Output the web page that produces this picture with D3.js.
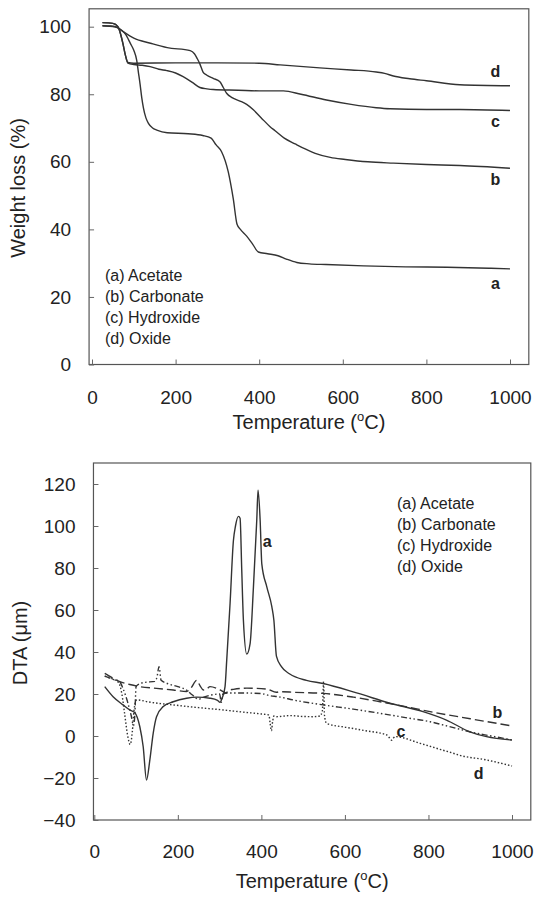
<!DOCTYPE html>
<meta charset="utf-8">
<html>
<head>
<title>TGA / DTA</title>
<style>
  body { margin: 0; background: #fff; }
  svg text { font-family: "Liberation Sans", Arial, sans-serif; fill: #222; }
</style>
</head>
<body>
<div id="viz"></div>
<script src="https://cdnjs.cloudflare.com/ajax/libs/d3/7.8.5/d3.min.js"></script>
<script>
// ---- data: [temperature (C), value] ----
var legendNames = ["(a) Acetate", "(b) Carbonate", "(c) Hydroxide", "(d) Oxide"];
var curveKeys = ["a", "b", "c", "d"];
var xTicks = [0, 200, 400, 600, 800, 1000];
var tgaTicks = [0, 20, 40, 60, 80, 100];
var dtaTicks = [-40, -20, 0, 20, 40, 60, 80, 100, 120];

var tgaAcetate = [[25,100.3],[55,100],[70,99],[80,97.8],[92,95],[100,93],[107,90],[111,86.5],[115,83],
  [119,79],[123,76],[129,73],[135,71.4],[145,70],[155,69.4],[180,68.6],[230,68.3],[265,67.8],[285,67],
  [297,65],[310,63],[326,57],[338,49],[347,41.5],[355,40],[370,38],[385,35.5],[398,33.3],[420,32.8],
  [445,32.2],[465,31.2],[490,30.2],[520,29.8],[560,29.6],[650,29.2],[750,28.9],[850,28.8],[950,28.5],[1000,28.3]];
var tgaCarbonate = [[25,100.3],[45,100.2],[60,99.8],[75,98.5],[100,96.6],[140,95.1],[180,93.8],[235,92.9],
  [245,92],[252,90.5],[258,89],[266,86.5],[274,85.7],[290,84.7],[306,83.7],[314,82],[322,80.3],[335,79],
  [354,78],[370,77],[386,75.4],[405,73],[426,70.4],[438,69.2],[460,67],[486,65.3],[510,63.8],[534,62.5],
  [570,61.3],[606,60.7],[660,60],[721,59.6],[800,59.2],[880,58.9],[1000,58.1]];
var tgaHydroxide = [[25,101.2],[50,101],[62,100],[68,98],[74,95],[80,91.5],[86,89.2],[100,88.8],[120,88.6],
  [139,88.2],[160,87.4],[179,87],[200,86.3],[218,85.2],[240,83.5],[258,82],[275,81.6],[290,81.4],[350,81.2],
  [400,81],[458,81],[500,80],[561,78.3],[620,77],[680,76],[713,75.7],[800,75.5],[880,75.5],[1000,75.2]];
var tgaOxide = [[25,101.2],[50,101],[62,100],[68,98],[74,95],[80,91.5],[86,89.4],[100,89.2],[200,89.3],
  [300,89.3],[400,89.2],[450,88.7],[545,87.8],[620,87.2],[680,86.6],[700,86.2],[721,85.4],[760,84.6],
  [800,84],[880,82.8],[1000,82.5]];

var dtaAcetate = [[25,23.5],[45,18.7],[69,14.8],[85,12.4],[97,11.1],[109,4.4],[117,-5],[125,-21],[133,-11.4],
  [141,1.3],[149,9.2],[165,14],[189,16.3],[221,18],[245,18.5],[277,18],[295,17],[301,16],[306,18],[313,23.5],
  [317,36],[325,63],[333,93],[338,100],[345,104.6],[349,103.7],[353,79],[357,55],[365,39],[373,44],[381,71],
  [389,103],[392,117],[397,103],[401,82],[413,71],[425,61.6],[430,55],[436,38],[448,33],[468,29.5],[508,26.5],
  [548,25],[628,20.5],[708,15.6],[787,11.6],[843,7.6],[899,2],[939,-0.3],[1000,-1.9]];
var dtaCarbonate = [[25,29.8],[45,27.5],[61,25.9],[85,24.5],[109,23.5],[149,22.7],[189,21.9],[221,21.2],
  [232,23],[245,26.5],[253,24],[261,21.9],[270,22.5],[277,23.5],[293,22.7],[305,21.5],[315,20.5],[322,21.8],
  [333,22.2],[365,22.8],[413,22.3],[436,20.8],[444,21.1],[480,20.8],[548,20.3],[620,18.5],[684,16.3],
  [750,13.8],[804,11.6],[900,8.2],[1000,4.8]];
var dtaHydroxide = [[25,28.5],[45,27],[60,26],[70,22],[80,16],[88,10],[94,5],[97,10],[100,23.5],[105,24.5],
  [120,25.5],[145,26],[150,28],[155,33],[160,26.5],[175,25],[200,23.5],[220,22],[235,19.5],[250,17.5],
  [262,18.5],[280,19.5],[300,20],[304,16],[308,20],[320,20.5],[350,20.5],[400,20.2],[420,19.2],[440,18.7],
  [480,17],[548,14.8],[620,12.8],[684,10.8],[750,8.6],[804,6.8],[850,4.5],[899,2],[950,0],[1000,-1.9]];
var dtaOxide = [[25,28.5],[45,27],[58,25.5],[66,20],[73,10],[80,0],[86,-4],[91,2],[95,12],[99,16.5],
  [102,17.2],[130,16.2],[160,15.4],[189,14.8],[250,13.5],[309,12.4],[360,11.3],[400,10.5],[418,10],[421,6],
  [424,2.5],[427,7],[430,9.5],[436,9.2],[468,9.7],[500,9.3],[524,9.2],[540,9.5],[546,12],[549,26],[551,10],
  [556,6],[604,4.1],[650,2.5],[700,0.5],[707,-1],[712,-2],[716,-1],[720,-0.3],[780,-3.5],[830,-6.5],
  [859,-8.2],[875,-9.2],[939,-11.4],[1000,-14.3]];

// where the a/b/c/d tags sit, in data units
var tgaTags = [[965,24],[965,54.9],[965,71.9],[965,86.7]];
var dtaTags = [[414,92.9],[965,11.3],[734,2.4],[920,-17.8]];

var svg = d3.select("#viz").append("svg")
    .attr("width", 534)
    .attr("height", 899);

var line = function (x, y) {
    return d3.line()
        .x(function (d) { return x(d[0]); })
        .y(function (d) { return y(d[1]); })
        .curve(d3.curveMonotoneX);
};

function drawPanel(opt) {
    var x = opt.x, y = opt.y;
    var g = svg.append("g");
    var left = x(opt.xFrame[0]), right = x(opt.xFrame[1]);
    var top = y(opt.yFrame[1]), bottom = y(opt.yFrame[0]);

    g.append("rect")
        .attr("x", left).attr("y", top)
        .attr("width", right - left).attr("height", bottom - top)
        .attr("fill", "none").attr("stroke", "#555").attr("stroke-width", 1.2);

    var xa = g.append("g")
        .attr("transform", "translate(0," + bottom + ")")
        .call(d3.axisBottom(x).tickValues(xTicks).tickFormat(d3.format("d"))
            .tickSizeInner(-5).tickSizeOuter(0).tickPadding(opt.xPad));
    var ya = g.append("g")
        .attr("transform", "translate(" + left + ",0)")
        .call(d3.axisLeft(y).tickValues(opt.yTicks).tickFormat(d3.format("d"))
            .tickSizeInner(-5).tickSizeOuter(0).tickPadding(18));
    [xa, ya].forEach(function (a) {
        a.select(".domain").remove();
        a.selectAll("line").attr("stroke", "#666");
        a.selectAll("text").attr("font-size", 19).attr("fill", "#222")
            .attr("font-family", "Liberation Sans, Arial, sans-serif");
    });

    opt.series.forEach(function (s, i) {
        g.append("path")
            .datum(s)
            .attr("d", line(x, y))
            .attr("fill", "none")
            .attr("stroke", "#333")
            .attr("stroke-width", 1.4)
            .attr("stroke-dasharray", opt.dashes[i]);
    });

    g.selectAll(".tag")
        .data(opt.tags).enter()
        .append("text")
        .attr("x", function (d) { return x(d[0]); })
        .attr("y", function (d) { return y(d[1]); })
        .attr("dy", "0.35em")
        .attr("text-anchor", "middle")
        .attr("font-size", 16)
        .attr("font-weight", "bold")
        .text(function (d, i) { return curveKeys[i]; });

    g.selectAll(".leg")
        .data(legendNames).enter()
        .append("text")
        .attr("x", opt.legend[0])
        .attr("y", function (d, i) { return opt.legend[1] + i * 21; })
        .attr("dy", "0.35em")
        .attr("font-size", 16)
        .text(function (d) { return d; });

    var xt = g.append("text")
        .attr("x", (left + right) / 2)
        .attr("y", opt.xTitleY)
        .attr("text-anchor", "middle")
        .attr("font-size", 20);
    xt.append("tspan").text("Temperature (");
    xt.append("tspan").attr("font-size", 13).attr("dy", -8).text("o");
    xt.append("tspan").attr("dy", 8).text("C)");

    g.append("text")
        .attr("transform", "translate(" + opt.yTitle[0] + "," + opt.yTitle[1] + ") rotate(-90)")
        .attr("text-anchor", "middle")
        .attr("font-size", 20)
        .text(opt.yLabel);
}

// top: TGA
drawPanel({
    x: d3.scaleLinear().domain([0, 1000]).range([92, 510]),
    y: d3.scaleLinear().domain([0, 100]).range([364.5, 26.7]),
    xFrame: [-7, 1045], yFrame: [0, 105.3],
    yTicks: tgaTicks, xPad: 26,
    series: [tgaAcetate, tgaCarbonate, tgaHydroxide, tgaOxide],
    dashes: [null, null, null, null],
    tags: tgaTags,
    legend: [105, 275],
    xTitleY: 429,
    yTitle: [25, 188],
    yLabel: "Weight loss (%)"
});

// bottom: DTA
drawPanel({
    x: d3.scaleLinear().domain([0, 1000]).range([94.3, 512]),
    y: d3.scaleLinear().domain([-40, 120]).range([820, 484]),
    xFrame: [-2, 1045], yFrame: [-40, 130],
    yTicks: dtaTicks, xPad: 25,
    series: [dtaAcetate, dtaCarbonate, dtaHydroxide, dtaOxide],
    dashes: [null, "9,4", "6,2.5,1.5,2.5,1.5,2.5", "1.5,2"],
    tags: dtaTags,
    legend: [397, 503],
    xTitleY: 888,
    yTitle: [27, 643],
    yLabel: "DTA (\u03bcm)"
});
</script>
</body>
</html>
